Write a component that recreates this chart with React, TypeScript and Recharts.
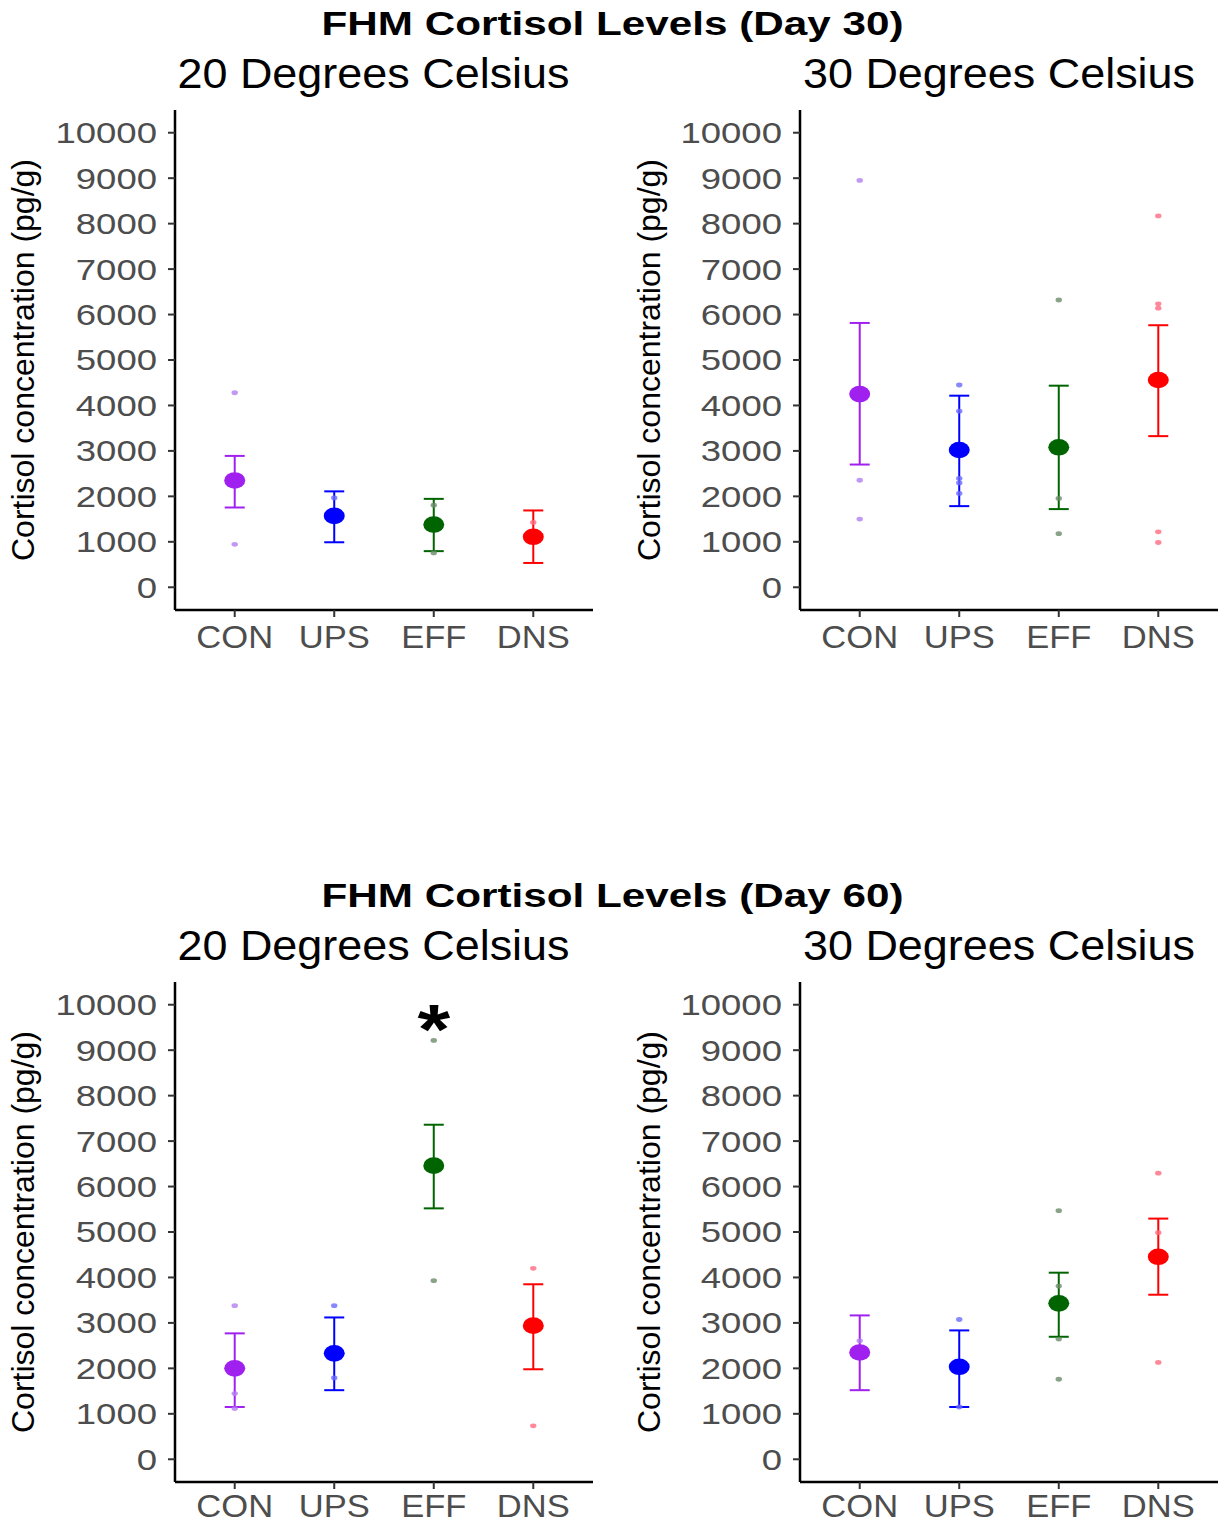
import React from "react";
import { ScatterChart, Scatter, XAxis, YAxis, ErrorBar } from "recharts";

const groups = ["CON", "UPS", "EFF", "DNS"];
const groupColors = ["#A020F0", "#0000FF", "#006400", "#FF0000"];
const pointColors = ["#b27ef0", "#6a6aff", "#6c8c6c", "#ff6c80"];
const yTicks = [0, 1000, 2000, 3000, 4000, 5000, 6000, 7000, 8000, 9000, 10000];

// Day 30, 20 C
const d30c20Mean = [2350, 1570, 1380, 1110];
const d30c20Upper = [2890, 2110, 1945, 1690];
const d30c20Lower = [1755, 990, 795, 535];
const d30c20Points = [[4280, 945], [1965], [1805, 755], [1425]];

// Day 30, 30 C
const d30c30Mean = [4250, 3020, 3080, 4560];
const d30c30Upper = [5815, 4215, 4435, 5765];
const d30c30Lower = [2700, 1785, 1720, 3325];
const d30c30Points = [
  [8950, 2355, 1500],
  [4450, 3875, 2395, 2295, 2065],
  [6320, 1955, 1180],
  [8170, 6235, 6140, 1220, 985],
];

// Day 60, 20 C
const d60c20Mean = [2000, 2330, 6460, 2940];
const d60c20Upper = [2770, 3120, 7360, 3850];
const d60c20Lower = [1150, 1520, 5520, 1980];
const d60c20Points = [[3380, 1445, 1115], [3380, 1790], [9215, 3930], [4200, 735]];
const d60c20Marks = [{ x: 3, y: 9710 }];

// Day 60, 30 C
const d60c30Mean = [2350, 2035, 3430, 4455];
const d60c30Upper = [3165, 2835, 4105, 5295];
const d60c30Lower = [1520, 1150, 2695, 3620];
const d60c30Points = [[2605], [3075, 1150], [5470, 3810, 2645, 1760], [6295, 4985, 2130]];

const FONT = "'Liberation Sans', Arial, sans-serif";

const makeXTick = (shift: number) => (props: any) => {
  const { x, y, payload } = props;
  return (
    <g transform={`translate(${x},${y + 23 - shift}) scale(1.08,1)`}>
      <text textAnchor="middle" fontSize={32} fill="#4D4D4D" fontFamily={FONT}>
        {groups[payload.value - 1]}
      </text>
    </g>
  );
};

const YTick = (props: any) => {
  const { x, y, payload } = props;
  return (
    <g transform={`translate(${x},${y}) scale(1.26,1)`}>
      <text textAnchor="end" dy="0.36em" fontSize={29} fill="#4D4D4D" fontFamily={FONT}>
        {payload.value}
      </text>
    </g>
  );
};

const Asterisk = (props: any) => (
  <g transform={`translate(${props.cx},${props.cy + 36}) scale(1.2,1)`}>
    <text textAnchor="middle" fontSize={70} fontWeight="bold" fill="#000" fontFamily={FONT}>
      *
    </text>
  </g>
);

interface PanelProps {
  left: number;
  top: number;
  mean: number[];
  upper: number[];
  lower: number[];
  points: number[][];
  marks?: { x: number; y: number }[];
  labelShift?: number;
}

const Panel = ({ left, top, mean, upper, lower, points, marks = [], labelShift = 0 }: PanelProps) => {
  const meanSeries = groups.map((_, i) => [
    { x: i + 1, y: mean[i], err: [mean[i] - lower[i], upper[i] - mean[i]] },
  ]);
  const pointSeries = groups.map((_, i) => points[i].map((v) => ({ x: i + 1, y: v })));
  const XTick = makeXTick(labelShift);

  return (
    <div style={{ position: "absolute", left, top }}>
      <ScatterChart width={600} height={584} margin={{ top: 10, right: 7, left: 0, bottom: 30 }}>
        <XAxis
          type="number"
          dataKey="x"
          domain={[0.4, 4.6]}
          ticks={[1, 2, 3, 4]}
          interval={0}
          allowDataOverflow
          height={44}
          tickSize={7}
          tickMargin={8}
          tick={<XTick />}
          axisLine={{ stroke: "#000", strokeWidth: 2.5 }}
          tickLine={{ stroke: "#333", strokeWidth: 2 }}
        />
        <YAxis
          type="number"
          dataKey="y"
          domain={[-500, 10500]}
          ticks={yTicks}
          interval={0}
          allowDataOverflow
          width={175}
          tickSize={7}
          tickMargin={11}
          tick={<YTick />}
          axisLine={{ stroke: "#000", strokeWidth: 2.5 }}
          tickLine={{ stroke: "#333", strokeWidth: 2 }}
        />
        {pointSeries.map((d, i) => (
          <Scatter
            key={`pts-${i}`}
            data={d}
            isAnimationActive={false}
            shape={(p: any) => (
              <ellipse cx={p.cx} cy={p.cy} rx={3.2} ry={2.4} fill={pointColors[i]} fillOpacity={0.8} />
            )}
          />
        ))}
        {meanSeries.map((d, i) => (
          <Scatter
            key={`mean-${i}`}
            data={d}
            isAnimationActive={false}
            shape={(p: any) => <ellipse cx={p.cx} cy={p.cy} rx={10.5} ry={8.3} fill={groupColors[i]} />}
          >
            <ErrorBar
              dataKey="err"
              direction="y"
              width={10}
              stroke={groupColors[i]}
              strokeWidth={2}
              isAnimationActive={false}
            />
          </Scatter>
        ))}
        {marks.length > 0 && <Scatter data={marks} isAnimationActive={false} shape={<Asterisk />} />}
      </ScatterChart>
    </div>
  );
};

const Titles = ({ offset, day }: { offset: number; day: number }) => (
  <g>
    <g transform={`translate(612.5,${offset + 35}) scale(1.28,1)`}>
      <text textAnchor="middle" fontSize={33} fontWeight="bold" fill="#000" fontFamily={FONT}>
        {`FHM Cortisol Levels (Day ${day})`}
      </text>
    </g>
    <g transform={`translate(373.5,${offset + 88}) scale(1.07,1)`}>
      <text textAnchor="middle" fontSize={42} fill="#000" fontFamily={FONT}>
        20 Degrees Celsius
      </text>
    </g>
    <g transform={`translate(999,${offset + 88}) scale(1.07,1)`}>
      <text textAnchor="middle" fontSize={42} fill="#000" fontFamily={FONT}>
        30 Degrees Celsius
      </text>
    </g>
    <text
      transform={`translate(34,${offset + 360}) rotate(-90)`}
      textAnchor="middle"
      fontSize={32}
      fill="#000"
      fontFamily={FONT}
    >
      Cortisol concentration (pg/g)
    </text>
    <text
      transform={`translate(660,${offset + 360}) rotate(-90)`}
      textAnchor="middle"
      fontSize={32}
      fill="#000"
      fontFamily={FONT}
    >
      Cortisol concentration (pg/g)
    </text>
  </g>
);

export default function App() {
  return (
    <div
      style={{
        position: "absolute",
        left: 0,
        top: 0,
        width: 1225,
        height: 1526,
        overflow: "hidden",
        background: "#fff",
      }}
    >
      <Panel left={0} top={100} mean={d30c20Mean} upper={d30c20Upper} lower={d30c20Lower} points={d30c20Points} />
      <Panel left={625} top={100} mean={d30c30Mean} upper={d30c30Upper} lower={d30c30Lower} points={d30c30Points} />
      <Panel
        left={0}
        top={972}
        mean={d60c20Mean}
        upper={d60c20Upper}
        lower={d60c20Lower}
        points={d60c20Points}
        marks={d60c20Marks}
        labelShift={3}
      />
      <Panel
        left={625}
        top={972}
        mean={d60c30Mean}
        upper={d60c30Upper}
        lower={d60c30Lower}
        points={d60c30Points}
        labelShift={3}
      />
      <svg width={1225} height={1526} style={{ position: "absolute", left: 0, top: 0, pointerEvents: "none" }}>
        <Titles offset={0} day={30} />
        <Titles offset={872} day={60} />
      </svg>
    </div>
  );
}
